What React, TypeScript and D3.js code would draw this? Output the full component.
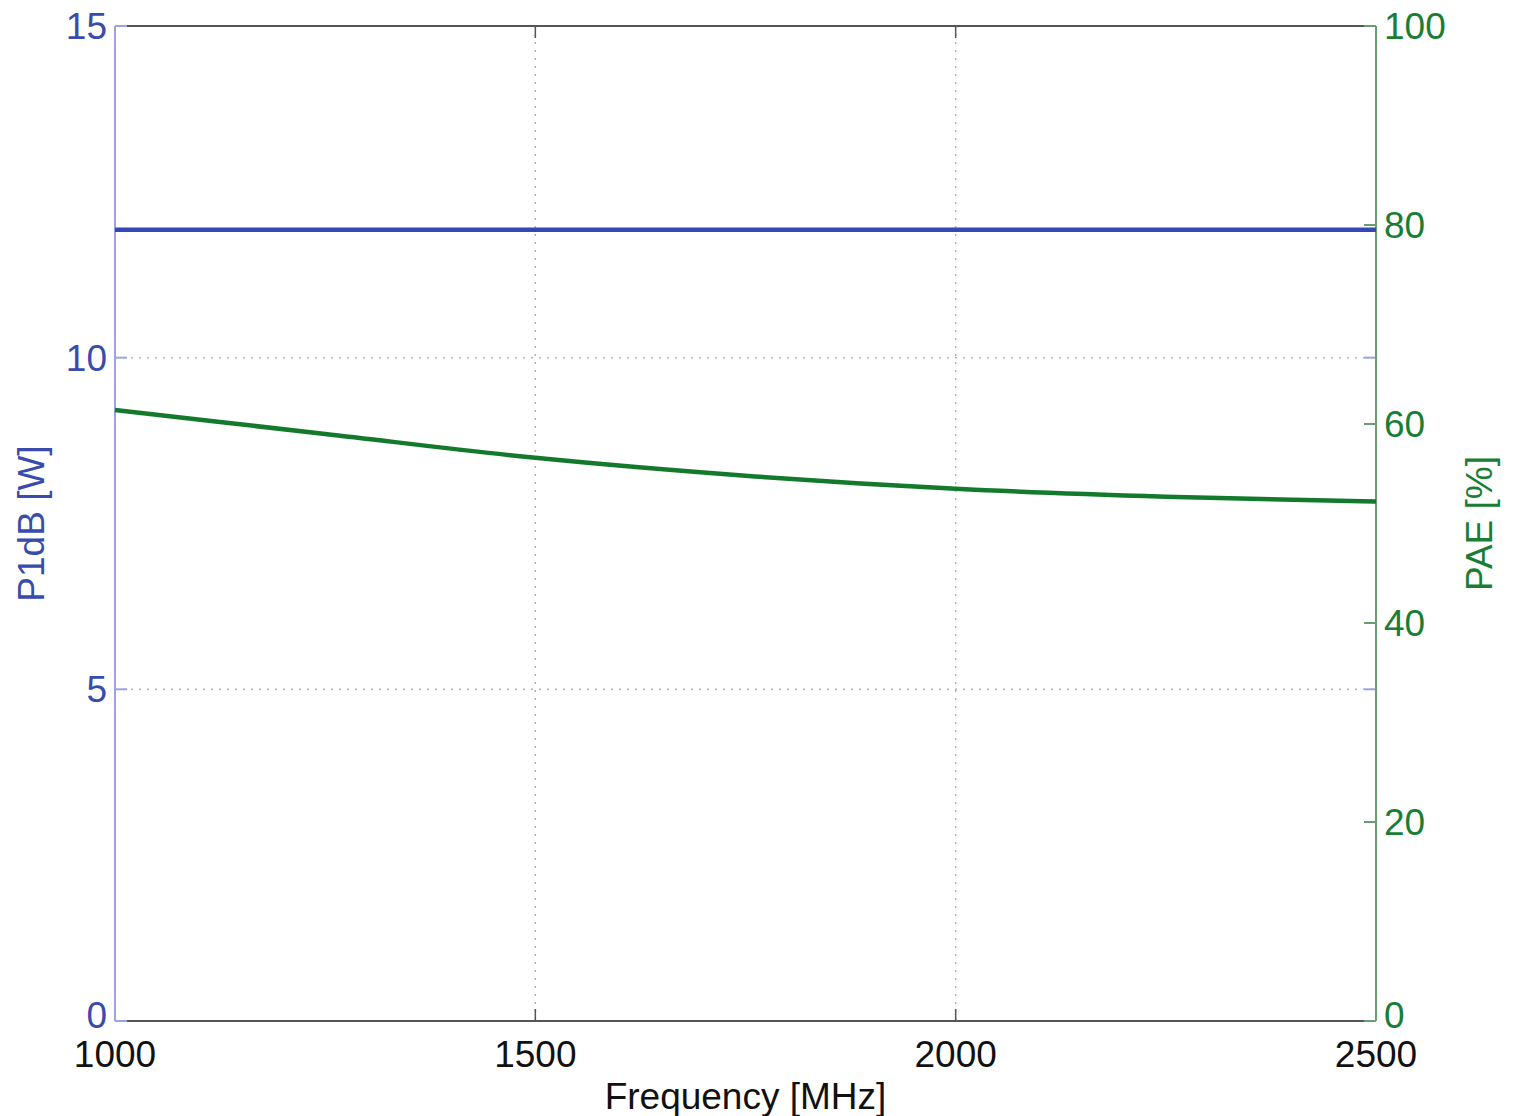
import React, { useEffect, useRef } from "react";
import * as d3 from "d3";

const freqs = [1000, 1250, 1500, 1750, 2000, 2250, 2500];
const p1dbValues = [11.93, 11.93, 11.93, 11.93, 11.93, 11.93, 11.93];
const paeValues = [61.4, 59.0, 56.6, 54.8, 53.5, 52.7, 52.2];
const xTicks = [1000, 1500, 2000, 2500];
const leftTicks = [0, 5, 10, 15];
const rightTicks = [0, 20, 40, 60, 80, 100];

const W = 1517, H = 1116;
const M = { left: 115, right: 1376, top: 26, bottom: 1021 };
const BLUE = "#3a4cab";
const BLUE_LINE = "#3347b5";
const BLUE_AXIS = "#9da3de";
const GREEN = "#1a7d35";
const GREEN_LINE = "#137a2c";
const GREEN_AXIS = "#6a9e72";
const FONT = "'Liberation Sans', Arial, Helvetica, sans-serif";

export default function App() {
  const ref = useRef<SVGSVGElement>(null);
  useEffect(() => {
    const svg = d3.select(ref.current);
    svg.selectAll("*").remove();
    const x = d3.scaleLinear().domain([1000, 2500]).range([M.left, M.right]);
    const yL = d3.scaleLinear().domain([0, 15]).range([M.bottom, M.top]);
    const yR = d3.scaleLinear().domain([0, 100]).range([M.bottom, M.top]);

    // grid
    const g = svg.append("g");
    xTicks.slice(1, -1).forEach((t) => {
      g.append("line").attr("x1", x(t)).attr("x2", x(t)).attr("y1", M.top).attr("y2", M.bottom)
        .attr("stroke", "#b0b0b0").attr("stroke-width", 1.5).attr("stroke-dasharray", "2,6");
    });
    leftTicks.slice(1, -1).forEach((t) => {
      g.append("line").attr("x1", M.left).attr("x2", M.right).attr("y1", yL(t)).attr("y2", yL(t))
        .attr("stroke", "#b0b0c8").attr("stroke-width", 1.5).attr("stroke-dasharray", "2,6");
    });

    // frame top/bottom
    svg.append("line").attr("x1", M.left).attr("x2", M.right).attr("y1", M.top).attr("y2", M.top)
      .attr("stroke", "#555").attr("stroke-width", 2);
    svg.append("line").attr("x1", M.left).attr("x2", M.right).attr("y1", M.bottom).attr("y2", M.bottom)
      .attr("stroke", "#555").attr("stroke-width", 2);
    // x ticks
    xTicks.forEach((t) => {
      svg.append("line").attr("x1", x(t)).attr("x2", x(t)).attr("y1", M.bottom).attr("y2", M.bottom - 12)
        .attr("stroke", "#555").attr("stroke-width", 1.5);
      svg.append("line").attr("x1", x(t)).attr("x2", x(t)).attr("y1", M.top).attr("y2", M.top + 12)
        .attr("stroke", "#555").attr("stroke-width", 1.5);
      svg.append("text").attr("x", x(t)).attr("y", 1067).attr("text-anchor", "middle")
        .attr("font-family", FONT).attr("font-size", 37).attr("fill", "#111").text(String(t));
    });
    svg.append("text").attr("x", x(1750)).attr("y", 1109).attr("text-anchor", "middle")
      .attr("font-family", FONT).attr("font-size", 37).attr("fill", "#111").text("Frequency [MHz]");

    // left axis
    svg.append("line").attr("x1", M.left).attr("x2", M.left).attr("y1", M.top).attr("y2", M.bottom)
      .attr("stroke", BLUE_AXIS).attr("stroke-width", 2);
    leftTicks.forEach((t) => {
      svg.append("line").attr("x1", M.left).attr("x2", M.left + 12).attr("y1", yL(t)).attr("y2", yL(t))
        .attr("stroke", BLUE_AXIS).attr("stroke-width", 2);
      svg.append("line").attr("x1", M.right).attr("x2", M.right - 12).attr("y1", yL(t)).attr("y2", yL(t))
        .attr("stroke", BLUE_AXIS).attr("stroke-width", 2);
      svg.append("text").attr("x", M.left - 8).attr("y", yL(t) - (t === 0 ? 6 : 0)).attr("dy", "0.35em").attr("text-anchor", "end")
        .attr("font-family", FONT).attr("font-size", 37).attr("fill", BLUE).text(String(t));
    });
    svg.append("text").attr("transform", `translate(44, ${(M.top + M.bottom) / 2}) rotate(-90)`)
      .attr("text-anchor", "middle").attr("font-family", FONT).attr("font-size", 37).attr("fill", BLUE)
      .text("P1dB [W]");

    // right axis
    svg.append("line").attr("x1", M.right).attr("x2", M.right).attr("y1", M.top).attr("y2", M.bottom)
      .attr("stroke", GREEN_AXIS).attr("stroke-width", 2);
    rightTicks.forEach((t) => {
      svg.append("line").attr("x1", M.right).attr("x2", M.right - 12).attr("y1", yR(t)).attr("y2", yR(t))
        .attr("stroke", GREEN_AXIS).attr("stroke-width", 2);
      svg.append("text").attr("x", M.right + 8).attr("y", yR(t) - (t === 0 ? 6 : 0)).attr("dy", "0.35em").attr("text-anchor", "start")
        .attr("font-family", FONT).attr("font-size", 37).attr("fill", GREEN).text(String(t));
    });
    svg.append("text").attr("transform", `translate(1492, ${(M.top + M.bottom) / 2}) rotate(-90)`)
      .attr("text-anchor", "middle").attr("font-family", FONT).attr("font-size", 37).attr("fill", GREEN)
      .text("PAE [%]");

    // lines
    const lineL = d3.line<number>().x((_, i) => x(freqs[i])).y((d) => yL(d)).curve(d3.curveMonotoneX);
    const lineR = d3.line<number>().x((_, i) => x(freqs[i])).y((d) => yR(d)).curve(d3.curveMonotoneX);
    svg.append("path").attr("d", lineL(p1dbValues)!).attr("fill", "none").attr("stroke", BLUE_LINE).attr("stroke-width", 4.5);
    svg.append("path").attr("d", lineR(paeValues)!).attr("fill", "none").attr("stroke", GREEN_LINE).attr("stroke-width", 4.5);
  }, []);
  return <svg ref={ref} width={W} height={H} style={{ position: "absolute", left: 0, top: 0, background: "#fff" }} />;
}
